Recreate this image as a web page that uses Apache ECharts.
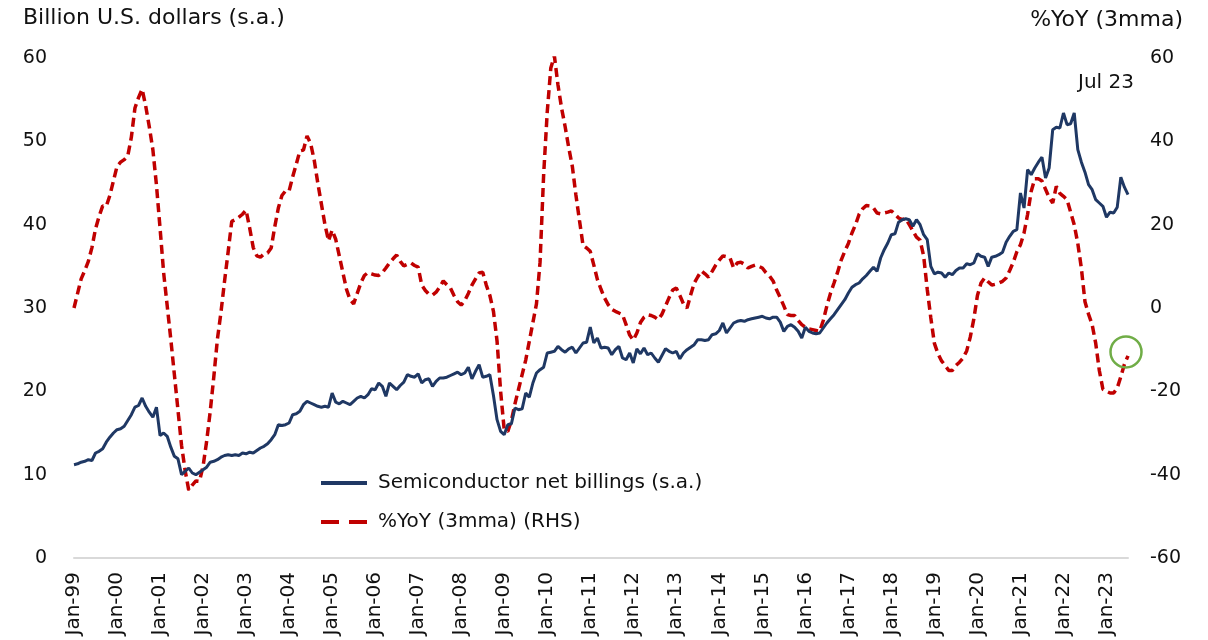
<!DOCTYPE html>
<html>
<head>
<meta charset="utf-8">
<script src="https://cdn.jsdelivr.net/npm/echarts@6/dist/echarts.min.js"></script>
<style>
  html, body { margin: 0; padding: 0; background: #fff; }
  #chart { width: 1208px; height: 640px; }
</style>
</head>
<body>
<div id="chart"></div>
<script>
// monthly, Jan-99 .. Jul-23
var startYear = 1999;
var monthNames = ['Jan', 'Feb', 'Mar', 'Apr', 'May', 'Jun', 'Jul', 'Aug', 'Sep', 'Oct', 'Nov', 'Dec'];

// Semiconductor net billings (s.a.), billion USD, one row per year
var billings = [
    11.2, 11.3, 11.5, 11.6, 11.8, 11.7, 12.6, 12.8, 13.1, 13.9, 14.5, 15.0,
    15.4, 15.5, 15.8, 16.5, 17.2, 18.1, 18.3, 19.2, 18.2, 17.5, 16.9, 18.1,
    14.7, 15.0, 14.6, 13.3, 12.2, 11.9, 10.0, 10.4, 10.8, 10.2, 10.0, 10.3,
    10.6, 10.9, 11.5, 11.6, 11.8, 12.1, 12.3, 12.4, 12.3, 12.4, 12.3, 12.6,
    12.5, 12.7, 12.6, 12.9, 13.2, 13.4, 13.7, 14.2, 14.8, 16.0, 15.9, 16.0,
    16.2, 17.2, 17.3, 17.6, 18.4, 18.8, 18.6, 18.4, 18.2, 18.1, 18.2, 18.1,
    19.8, 18.7, 18.5, 18.8, 18.6, 18.4, 18.8, 19.2, 19.4, 19.2, 19.6, 20.3,
    20.2, 21.0, 20.6, 19.4, 21.0, 20.6, 20.2, 20.7, 21.1, 22.0, 21.8, 21.7,
    22.1, 21.0, 21.4, 21.5, 20.6, 21.2, 21.6, 21.6, 21.7, 21.9, 22.1, 22.3,
    22.0, 22.2, 22.9, 21.5, 22.4, 23.2, 21.7, 21.8, 22.0, 19.5, 16.6, 15.2,
    14.8, 16.0, 16.1, 18.0, 17.8, 17.9, 19.8, 19.3, 21.0, 22.2, 22.6, 22.9,
    24.6, 24.7, 24.8, 25.4, 25.0, 24.7, 25.1, 25.3, 24.6, 25.2, 25.8, 25.9,
    27.7, 25.8, 26.4, 25.2, 25.3, 25.2, 24.4, 25.0, 25.4, 24.0, 23.8, 24.6,
    23.4, 25.1, 24.5, 25.2, 24.4, 24.6, 24.0, 23.5, 24.3, 25.1, 24.8, 24.6,
    24.8, 23.9, 24.6, 25.0, 25.3, 25.6, 26.2, 26.2, 26.1, 26.2, 26.8, 26.9,
    27.3, 28.2, 27.0, 27.6, 28.2, 28.4, 28.5, 28.4, 28.6, 28.7, 28.8, 28.9,
    29.0, 28.8, 28.7, 28.9, 28.9, 28.3, 27.2, 27.8, 28.0, 27.7, 27.2, 26.4,
    27.7, 27.2, 27.0, 26.9, 27.0, 27.6, 28.2, 28.7, 29.2, 29.8, 30.4, 31.0,
    31.8, 32.5, 32.8, 33.0, 33.5, 33.9, 34.4, 34.9, 34.4, 36.0, 37.0, 37.8,
    38.8, 38.9, 40.3, 40.6, 40.7, 40.6, 39.8, 40.6, 40.0, 38.8, 38.2, 35.0,
    34.1, 34.3, 34.2, 33.7, 34.2, 34.0, 34.5, 34.8, 34.8, 35.3, 35.2, 35.4,
    36.5, 36.2, 36.1, 35.0, 36.1, 36.2, 36.4, 36.7, 37.9, 38.6, 39.2, 39.4,
    43.8, 42.0, 46.6, 46.0, 46.8, 47.5, 48.1, 45.6, 46.8, 51.4, 51.7, 51.6,
    53.4, 52.0, 52.1, 53.4, 49.0, 47.5, 46.3, 44.8, 44.2, 43.0, 42.6, 42.2,
    40.9, 41.5, 41.4, 42.1, 45.7, 44.5, 43.6
];

// %YoY (3mma), right axis
var yoy = [
    0.0, 3.5, 7.0, 9.0, 11.2, 14.5, 19.0, 22.0, 24.5, 24.4, 27.0, 30.5,
    34.0, 35.0, 35.6, 36.5, 41.0, 48.0, 50.5, 52.5, 48.5, 43.5, 38.0, 29.5,
    19.2, 8.5, 0.5, -7.5, -16.0, -24.5, -33.0, -39.0, -43.7, -42.5, -41.5, -41.6,
    -38.0, -32.0, -24.8, -16.5, -7.5, -1.0, 6.5, 13.5, 20.8, 21.2, 21.8, 22.5,
    23.5, 19.2, 14.5, 12.5, 12.2, 13.0, 13.2, 14.4, 19.5, 24.0, 27.0, 28.1,
    28.1, 31.5, 34.5, 37.7, 37.9, 41.3, 39.5, 35.5, 30.0, 25.0, 20.0, 16.1,
    18.7, 16.5, 12.5, 8.5, 4.5, 2.0, 1.0, 3.5, 6.0, 7.8, 8.5, 8.2,
    7.9, 7.8, 8.5, 9.6, 10.8, 11.8, 12.7, 11.2, 10.1, 10.5, 10.8, 10.2,
    9.8, 5.5, 4.2, 3.3, 3.1, 3.8, 5.0, 6.5, 5.6, 4.8, 3.0, 1.5,
    0.7, 1.8, 3.5, 5.5, 7.0, 8.4, 8.6, 5.5, 3.0, -0.8, -7.9, -20.0,
    -29.2, -29.6, -27.0, -23.0, -19.5, -16.0, -12.5, -8.0, -3.5, 1.0, 11.0, 32.0,
    47.0, 57.6, 60.5, 53.5, 48.0, 43.5, 38.5, 34.0, 27.1, 21.0, 15.0, 14.4,
    13.6, 10.3, 6.8, 4.5, 2.4, 0.8, -0.3, -0.8, -1.2, -1.6, -4.0, -6.5,
    -7.7, -6.0, -3.5, -2.2, -1.6, -1.8, -2.2, -2.8, -1.5, 0.5, 2.5, 4.3,
    4.8, 3.0, 1.0, 0.0, 3.1, 6.0, 7.5, 8.9, 8.2, 7.4, 8.8, 10.3,
    11.5, 12.5, 12.3, 12.0, 9.6, 10.8, 11.0, 10.5, 9.6, 10.0, 10.3, 10.0,
    9.6, 8.5, 7.7, 6.5, 4.3, 2.5, 0.5, -1.6, -1.8, -1.8, -3.0, -4.0,
    -4.6, -5.0, -5.2, -5.4, -5.6, -3.0, 0.5, 3.5, 6.0, 8.6, 11.5, 13.6,
    15.5, 18.0, 20.0, 22.5, 23.8, 24.6, 24.5, 24.0, 22.8, 22.6, 22.8, 23.0,
    23.3, 22.5, 21.6, 21.2, 21.5, 20.0, 18.5, 17.0, 16.3, 12.5, 4.5, -2.4,
    -8.5, -11.0, -12.7, -13.8, -15.0, -15.0, -13.8, -13.0, -12.0, -10.3, -7.0, -2.6,
    3.0, 6.0, 7.2, 6.3, 5.5, 5.7, 6.0, 6.4, 7.2, 9.0, 11.0, 13.5,
    15.2, 18.0, 22.5, 28.0, 31.0, 31.0, 30.5, 28.5, 26.5, 25.2, 29.2, 27.5,
    26.8, 26.0, 23.0, 20.0, 15.5, 9.5, 1.5, -1.5, -4.0, -8.5, -15.0, -19.5,
    -20.0, -20.4, -20.4, -19.2, -16.5, -13.5, -11.5
];

var leftTicks = { min: 0, max: 60, interval: 10 };
var rightTicks = { min: -60, max: 60, interval: 20 };

var categories = [];
for (var i = 0; i < billings.length; i++) {
    var yr = startYear + Math.floor(i / 12);
    categories.push(monthNames[i % 12] + '-' + String(yr).slice(2));
}

var blue = '#1f3864';
var red = '#c00000';
var font = 'DejaVu Sans';
var ink = '#111';

var chart = echarts.init(document.getElementById('chart'));
chart.setOption({
    animation: false,
    textStyle: { fontFamily: font },
    grid: { left: 74, right: 80, top: 58, bottom: 82 },
    legend: {
        orient: 'vertical',
        left: 316,
        top: 468,
        itemWidth: 46,
        itemHeight: 14,
        itemGap: 19,
        textStyle: { fontSize: 20, color: ink, fontFamily: font, padding: [0, 0, 0, 6] },
        data: [
            { name: 'Semiconductor net billings (s.a.)', icon: 'path://M0,0H46V4H0Z', itemStyle: { color: blue } },
            { name: '%YoY (3mma) (RHS)', icon: 'path://M0,0H18V4H0ZM28,0H46V4H28Z', itemStyle: { color: red } }
        ]
    },
    graphic: [
        { type: 'text', left: 23, top: 7, style: { text: 'Billion U.S. dollars (s.a.)', fontSize: 22, fontFamily: font, fill: ink } },
        { type: 'text', right: 25, top: 9, style: { text: '%YoY (3mma)', fontSize: 22, fontFamily: font, fill: ink } },
        { type: 'text', left: 1078, top: 73, style: { text: 'Jul 23', fontSize: 20, fontFamily: font, fill: ink } }
    ],
    xAxis: {
        type: 'category',
        data: categories,
        boundaryGap: false,
        axisTick: { show: false },
        axisLine: { lineStyle: { color: '#d9d9d9', width: 2 } },
        axisLabel: {
            rotate: 90,
            fontSize: 20,
            color: ink,
            margin: 14,
            interval: function (idx) { return idx % 12 === 0; }
        },
        splitLine: { show: false }
    },
    yAxis: [
        {
            type: 'value',
            min: leftTicks.min, max: leftTicks.max, interval: leftTicks.interval,
            axisLine: { show: false },
            axisTick: { show: false },
            splitLine: { show: false },
            axisLabel: { fontSize: 19, color: ink, margin: 27 }
        },
        {
            type: 'value',
            position: 'right',
            min: rightTicks.min, max: rightTicks.max, interval: rightTicks.interval,
            axisLabel: { fontSize: 19, color: ink, margin: 22 },
            axisLine: { show: false },
            axisTick: { show: false },
            splitLine: { show: false }
        }
    ],
    series: [
        {
            name: 'Semiconductor net billings (s.a.)',
            type: 'line',
            yAxisIndex: 0,
            data: billings,
            symbol: 'none',
            lineStyle: { color: blue, width: 3 },
            itemStyle: { color: blue },
            z: 3
        },
        {
            name: '%YoY (3mma) (RHS)',
            type: 'line',
            yAxisIndex: 1,
            data: yoy,
            symbol: 'none',
            lineStyle: { color: red, width: 3.5, type: [9, 5] },
            itemStyle: { color: red },
            z: 2,
            markPoint: {
                symbol: 'circle',
                symbolSize: 31,
                symbolOffset: [-2, -4],
                itemStyle: { color: 'rgba(0,0,0,0)', borderColor: '#70ad47', borderWidth: 2.5 },
                label: { show: false },
                data: [{ coord: [categories[categories.length - 1], yoy[yoy.length - 1]] }]
            }
        }
    ]
});
</script>
</body>
</html>
